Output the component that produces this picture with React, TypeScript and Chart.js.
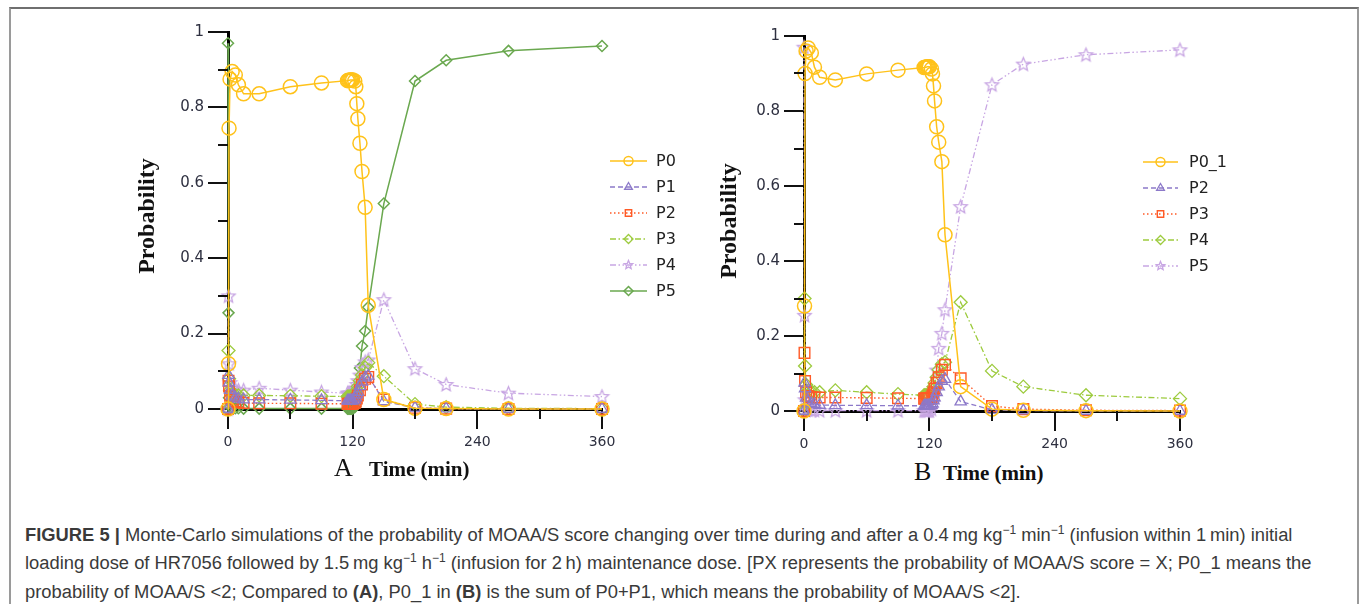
import React, { useEffect, useRef } from 'react';
import { Chart, registerables } from 'chart.js';

Chart.register(...registerables);

// ---------------- data ----------------
const TIME = [0, 0.5, 1, 2, 4, 7, 10, 15, 30, 60, 90, 115, 116, 117, 118, 119, 120, 122, 123, 124, 125, 127, 129, 132, 135, 150, 180, 210, 270, 360];

const A_P0 = [0, 0.12, 0.745, 0.875, 0.895, 0.886, 0.86, 0.836, 0.836, 0.855, 0.865, 0.871, 0.872, 0.872, 0.873, 0.873, 0.873, 0.87, 0.855, 0.81, 0.77, 0.705, 0.63, 0.535, 0.275, 0.025, 0.002, 0.001, 0, 0];
const A_P1 = [0, 0.09, 0.07, 0.05, 0.035, 0.03, 0.027, 0.025, 0.025, 0.024, 0.023, 0.022, 0.022, 0.022, 0.022, 0.022, 0.022, 0.024, 0.03, 0.038, 0.045, 0.06, 0.072, 0.083, 0.088, 0.02, 0.003, 0.001, 0, 0];
const A_P2 = [0, 0.075, 0.06, 0.035, 0.025, 0.02, 0.018, 0.016, 0.015, 0.015, 0.014, 0.014, 0.014, 0.014, 0.014, 0.014, 0.014, 0.016, 0.02, 0.028, 0.036, 0.05, 0.065, 0.08, 0.085, 0.025, 0.003, 0.001, 0, 0];
const A_P3 = [0, 0.155, 0.08, 0.05, 0.04, 0.037, 0.036, 0.036, 0.036, 0.035, 0.034, 0.033, 0.033, 0.033, 0.033, 0.033, 0.033, 0.036, 0.042, 0.05, 0.06, 0.075, 0.09, 0.11, 0.123, 0.087, 0.013, 0.005, 0.002, 0.001];
const A_P4 = [0, 0.3, 0.12, 0.07, 0.055, 0.052, 0.05, 0.05, 0.055, 0.05, 0.045, 0.042, 0.042, 0.042, 0.042, 0.042, 0.042, 0.046, 0.055, 0.065, 0.075, 0.09, 0.11, 0.125, 0.13, 0.29, 0.107, 0.065, 0.042, 0.033];
const A_P5 = [0.97, 0.255, 0.03, 0.006, 0.003, 0.002, 0.002, 0.001, 0.001, 0.001, 0.001, 0.001, 0.001, 0.001, 0.001, 0.001, 0.001, 0.005, 0.02, 0.04, 0.06, 0.109, 0.167, 0.207, 0.27, 0.545, 0.87, 0.925, 0.95, 0.963];

const B_P0_1 = [0, 0.28, 0.9, 0.96, 0.968, 0.955, 0.917, 0.89, 0.883, 0.899, 0.909, 0.916, 0.917, 0.917, 0.918, 0.918, 0.918, 0.912, 0.899, 0.867, 0.827, 0.758, 0.717, 0.665, 0.47, 0.065, 0.005, 0.002, 0.001, 0];
// panel B plots the same P2..P5 curves as panel A
const B_P2 = A_P2;
const B_P3 = A_P3;
const B_P4 = A_P4;
const B_P5 = A_P5;

const X_TICKS = [0, 120, 240, 360];
const X_MINOR = [60, 180, 300];
const Y_TICKS = [0, 0.2, 0.4, 0.6, 0.8, 1];
const Y_MINOR = [0.1, 0.3, 0.5, 0.7, 0.9];

// ---------------- styles ----------------
type Sty = { color: string; dash: number[]; marker: string; r: number; lw: number };
const STY: Record<string, Sty> = {
  yellowCircle: { color: '#FFC21A', dash: [], marker: 'circle', r: 7, lw: 1.5 },
  purpleTri: { color: '#8C79C9', dash: [5, 3], marker: 'triangle', r: 6.5, lw: 1.3 },
  orangeSq: { color: '#FF5A26', dash: [1.5, 2.5], marker: 'rect', r: 7.5, lw: 1.4 },
  limeDia: { color: '#9DCB3E', dash: [6, 2.5, 1.5, 2.5], marker: 'rectRot', r: 6.5, lw: 1.3 },
  lavStar: { color: '#C8A6E3', dash: [6, 2.5, 1.5, 2.5, 1.5, 2.5], marker: 'star', r: 7, lw: 1.3 },
  greenDia: { color: '#6AA84F', dash: [], marker: 'rectRot', r: 5.5, lw: 1.5 },
};

const TICK_FONT = '"DejaVu Sans", Verdana, sans-serif';
const SERIF = '"Liberation Serif", "Times New Roman", serif';
const SANS = '"Liberation Sans", Arial, Helvetica, sans-serif';

function starPath(ctx: CanvasRenderingContext2D, cx: number, cy: number, r: number) {
  ctx.beginPath();
  for (let k = 0; k < 10; k++) {
    const a = -Math.PI / 2 + (k * Math.PI) / 5;
    const rr = k % 2 === 0 ? r : r * 0.45;
    const px = cx + rr * Math.cos(a);
    const py = cy + rr * Math.sin(a);
    if (k === 0) ctx.moveTo(px, py);
    else ctx.lineTo(px, py);
  }
  ctx.closePath();
}

function makeStar(color: string, r: number, lw: number) {
  const size = Math.ceil(r * 2 + lw * 2 + 2);
  const c = document.createElement('canvas');
  c.width = size;
  c.height = size;
  const g = c.getContext('2d')!;
  g.strokeStyle = color;
  g.lineWidth = lw;
  starPath(g, size / 2, size / 2 + 0.5, r);
  g.stroke();
  return c;
}

function drawMarker(ctx: CanvasRenderingContext2D, shape: string, x: number, y: number, r: number, color: string, lw: number) {
  ctx.save();
  ctx.strokeStyle = color;
  ctx.lineWidth = lw;
  ctx.setLineDash([]);
  ctx.beginPath();
  if (shape === 'circle') {
    ctx.arc(x, y, r, 0, Math.PI * 2);
  } else if (shape === 'triangle') {
    for (let k = 0; k < 3; k++) {
      const a = (k * 2 * Math.PI) / 3;
      const px = x + Math.sin(a) * r;
      const py = y - Math.cos(a) * r;
      if (k === 0) ctx.moveTo(px, py);
      else ctx.lineTo(px, py);
    }
    ctx.closePath();
  } else if (shape === 'rect') {
    const s = r * Math.SQRT1_2;
    ctx.rect(x - s, y - s, 2 * s, 2 * s);
  } else if (shape === 'rectRot') {
    ctx.moveTo(x, y - r);
    ctx.lineTo(x + r, y);
    ctx.lineTo(x, y + r);
    ctx.lineTo(x - r, y);
    ctx.closePath();
  } else if (shape === 'star') {
    starPath(ctx, x, y, r);
  }
  ctx.stroke();
  ctx.restore();
}

type Series = { label: string; data: number[]; sty: Sty };

type PanelProps = {
  left: number;
  top: number;
  width: number;
  height: number;
  yWidth: number;
  xHeight: number;
  padTop: number;
  padRight: number;
  series: Series[];
  legend: { x: number; y: number; dy: number; len: number; gap: number; r: number };
};

function Panel(p: PanelProps) {
  const ref = useRef<HTMLCanvasElement>(null);
  useEffect(() => {
    const canvas = ref.current!;
    const datasets = p.series.map((s) => ({
      label: s.label,
      data: TIME.map((t, i) => ({ x: t, y: s.data[i] })),
      borderColor: s.sty.color,
      borderWidth: s.sty.lw,
      borderDash: s.sty.dash,
      backgroundColor: 'rgba(0,0,0,0)',
      pointStyle: s.sty.marker === 'star' ? (makeStar(s.sty.color, s.sty.r, s.sty.lw) as any) : s.sty.marker,
      pointRadius: s.sty.r,
      pointHoverRadius: s.sty.r,
      pointBorderColor: s.sty.color,
      pointBackgroundColor: 'rgba(0,0,0,0)',
      pointBorderWidth: s.sty.lw,
      fill: false,
      tension: 0,
      clip: false as any,
    }));

    const minorTicks = {
      id: 'minorTicks',
      afterDraw(chart: any) {
        const { ctx, chartArea: ca, scales } = chart;
        ctx.save();
        ctx.strokeStyle = '#111';
        ctx.lineWidth = 2;
        ctx.beginPath();
        Y_MINOR.forEach((v) => {
          const py = Math.round(scales.y.getPixelForValue(v));
          ctx.moveTo(ca.left - 10, py);
          ctx.lineTo(ca.left, py);
        });
        X_MINOR.forEach((v) => {
          const px = Math.round(scales.x.getPixelForValue(v));
          ctx.moveTo(px, ca.bottom);
          ctx.lineTo(px, ca.bottom + 10);
        });
        ctx.stroke();
        ctx.restore();
      },
    };

    const lg = p.legend;
    const seriesLegend = {
      id: 'seriesLegend',
      afterDraw(chart: any) {
        const ctx = chart.ctx as CanvasRenderingContext2D;
        p.series.forEach((s, i) => {
          const yy = lg.y + i * lg.dy;
          ctx.save();
          ctx.strokeStyle = s.sty.color;
          ctx.lineWidth = s.sty.lw;
          ctx.setLineDash(s.sty.dash);
          ctx.beginPath();
          ctx.moveTo(lg.x, yy);
          ctx.lineTo(lg.x + lg.len, yy);
          ctx.stroke();
          ctx.restore();
          drawMarker(ctx, s.sty.marker, lg.x + lg.len / 2, yy, lg.r, s.sty.color, s.sty.lw);
          ctx.save();
          ctx.fillStyle = '#222';
          ctx.font = `16px ${TICK_FONT}`;
          ctx.textBaseline = 'middle';
          ctx.fillText(s.label, lg.x + lg.len + lg.gap, yy + 1);
          ctx.restore();
        });
      },
    };

    const axisCommon = {
      type: 'linear' as const,
      grid: { drawOnChartArea: false, drawTicks: true, tickLength: 20, tickWidth: 2, lineWidth: 2, tickColor: '#111' },
      border: { display: true, color: '#000', width: 3 },
    };

    const chart = new Chart(canvas, {
      type: 'line',
      data: { datasets: datasets as any },
      plugins: [minorTicks, seriesLegend],
      options: {
        responsive: false,
        animation: false,
        events: [],
        layout: { padding: { top: p.padTop, right: p.padRight, left: 0, bottom: 0 } },
        plugins: { legend: { display: false }, tooltip: { enabled: false }, title: { display: false } },
        scales: {
          x: {
            ...axisCommon,
            min: 0,
            max: 360,
            afterBuildTicks: (s: any) => {
              s.ticks = X_TICKS.map((v) => ({ value: v }));
            },
            afterFit: (s: any) => {
              s.height = p.xHeight;
            },
            ticks: {
              autoSkip: false,
              maxRotation: 0,
              padding: 5,
              color: '#2e3040',
              font: { family: TICK_FONT, size: 14 },
              callback: (v: any) => String(v),
            },
          },
          y: {
            ...axisCommon,
            min: 0,
            max: 1,
            afterBuildTicks: (s: any) => {
              s.ticks = Y_TICKS.map((v) => ({ value: v }));
            },
            afterFit: (s: any) => {
              s.width = p.yWidth;
            },
            ticks: {
              autoSkip: false,
              padding: 4,
              color: '#2e3040',
              font: { family: TICK_FONT, size: 15 },
              callback: (v: any) => String(v),
            },
          },
        } as any,
      },
    });
    return () => chart.destroy();
  }, []);
  return (
    <canvas
      ref={ref}
      width={p.width}
      height={p.height}
      style={{ position: 'absolute', left: p.left, top: p.top, width: p.width, height: p.height }}
    />
  );
}

const SERIES_A: Series[] = [
  { label: 'P0', data: A_P0, sty: STY.yellowCircle },
  { label: 'P1', data: A_P1, sty: STY.purpleTri },
  { label: 'P2', data: A_P2, sty: STY.orangeSq },
  { label: 'P3', data: A_P3, sty: STY.limeDia },
  { label: 'P4', data: A_P4, sty: STY.lavStar },
  { label: 'P5', data: A_P5, sty: STY.greenDia },
];

const SERIES_B: Series[] = [
  { label: 'P0_1', data: B_P0_1, sty: STY.yellowCircle },
  { label: 'P2', data: B_P2, sty: STY.purpleTri },
  { label: 'P3', data: B_P3, sty: STY.orangeSq },
  { label: 'P4', data: B_P4, sty: STY.limeDia },
  { label: 'P5', data: B_P5, sty: STY.lavStar },
];

function YTitle({ cx, cy }: { cx: number; cy: number }) {
  return (
    <div
      style={{
        position: 'absolute',
        left: cx - 100,
        top: cy - 15,
        width: 200,
        height: 30,
        lineHeight: '30px',
        textAlign: 'center',
        transform: 'rotate(-90deg)',
        font: `bold 24px ${SERIF}`,
        color: '#111',
        whiteSpace: 'nowrap',
      }}
    >
      Probability
    </div>
  );
}

function XTitle({ letter, lx, tx, baseline }: { letter: string; lx: number; tx: number; baseline: number }) {
  return (
    <>
      <div
        style={{
          position: 'absolute',
          left: lx,
          top: baseline - 0.8375 * 26,
          font: `26px ${SERIF}`,
          lineHeight: '26px',
          color: '#111',
          whiteSpace: 'nowrap',
        }}
      >
        {letter}
      </div>
      <div
        style={{
          position: 'absolute',
          left: tx,
          top: baseline - 0.8375 * 21,
          font: `bold 21px ${SERIF}`,
          lineHeight: '21px',
          color: '#111',
          whiteSpace: 'nowrap',
        }}
      >
        Time (min)
      </div>
    </>
  );
}

const supStyle: React.CSSProperties = { fontSize: 12, position: 'relative', top: -7 };

function Caption() {
  return (
    <div
      style={{
        position: 'absolute',
        left: 25,
        top: 522,
        font: `18.35px ${SANS}`,
        lineHeight: '25.3px',
        color: '#3a3a3a',
        whiteSpace: 'nowrap',
      }}
    >
      <div>
        <b>FIGURE 5 |</b> Monte-Carlo simulations of the probability of MOAA/S score changing over time during and after a 0.4{'\u2009'}mg kg
        <span style={supStyle}>−1</span> min<span style={supStyle}>−1</span> (infusion within 1{'\u2009'}min) initial
      </div>
      <div>
        loading dose of HR7056 followed by 1.5{'\u2009'}mg kg<span style={supStyle}>−1</span> h<span style={supStyle}>−1</span> (infusion for 2{'\u2009'}h) maintenance dose. [PX represents the probability of MOAA/S score = X; P0_1 means the
      </div>
      <div>
        probability of MOAA/S {'<'}2; Compared to <b>(A)</b>, P0_1 in <b>(B)</b> is the sum of P0+P1, which means the probability of MOAA/S {'<'}2].
      </div>
    </div>
  );
}

export default function App() {
  return (
    <div style={{ position: 'absolute', left: 0, top: 0, width: 1359, height: 604, background: '#fff', overflow: 'hidden' }}>
      <div
        style={{
          position: 'absolute',
          left: 9,
          top: 7,
          width: 1346,
          height: 700,
          borderTop: '2px solid #6f6f6f',
          borderLeft: '2px solid #9a9a9a',
          borderRight: '2px solid #9a9a9a',
        }}
      />
      <Panel
        left={110}
        top={16}
        width={600}
        height={440}
        yWidth={118}
        xHeight={47}
        padTop={16}
        padRight={108}
        series={SERIES_A}
        legend={{ x: 500, y: 145, dy: 26, len: 37, gap: 9, r: 4.5 }}
      />
      <Panel
        left={690}
        top={16}
        width={640}
        height={440}
        yWidth={114}
        xHeight={45}
        padTop={20}
        padRight={150}
        series={SERIES_B}
        legend={{ x: 453, y: 146, dy: 26, len: 35, gap: 11, r: 4.5 }}
      />
      <YTitle cx={148} cy={216} />
      <YTitle cx={730} cy={221} />
      <XTitle letter="A" lx={334} tx={369} baseline={477} />
      <XTitle letter="B" lx={914} tx={943} baseline={481} />
      <Caption />
    </div>
  );
}
